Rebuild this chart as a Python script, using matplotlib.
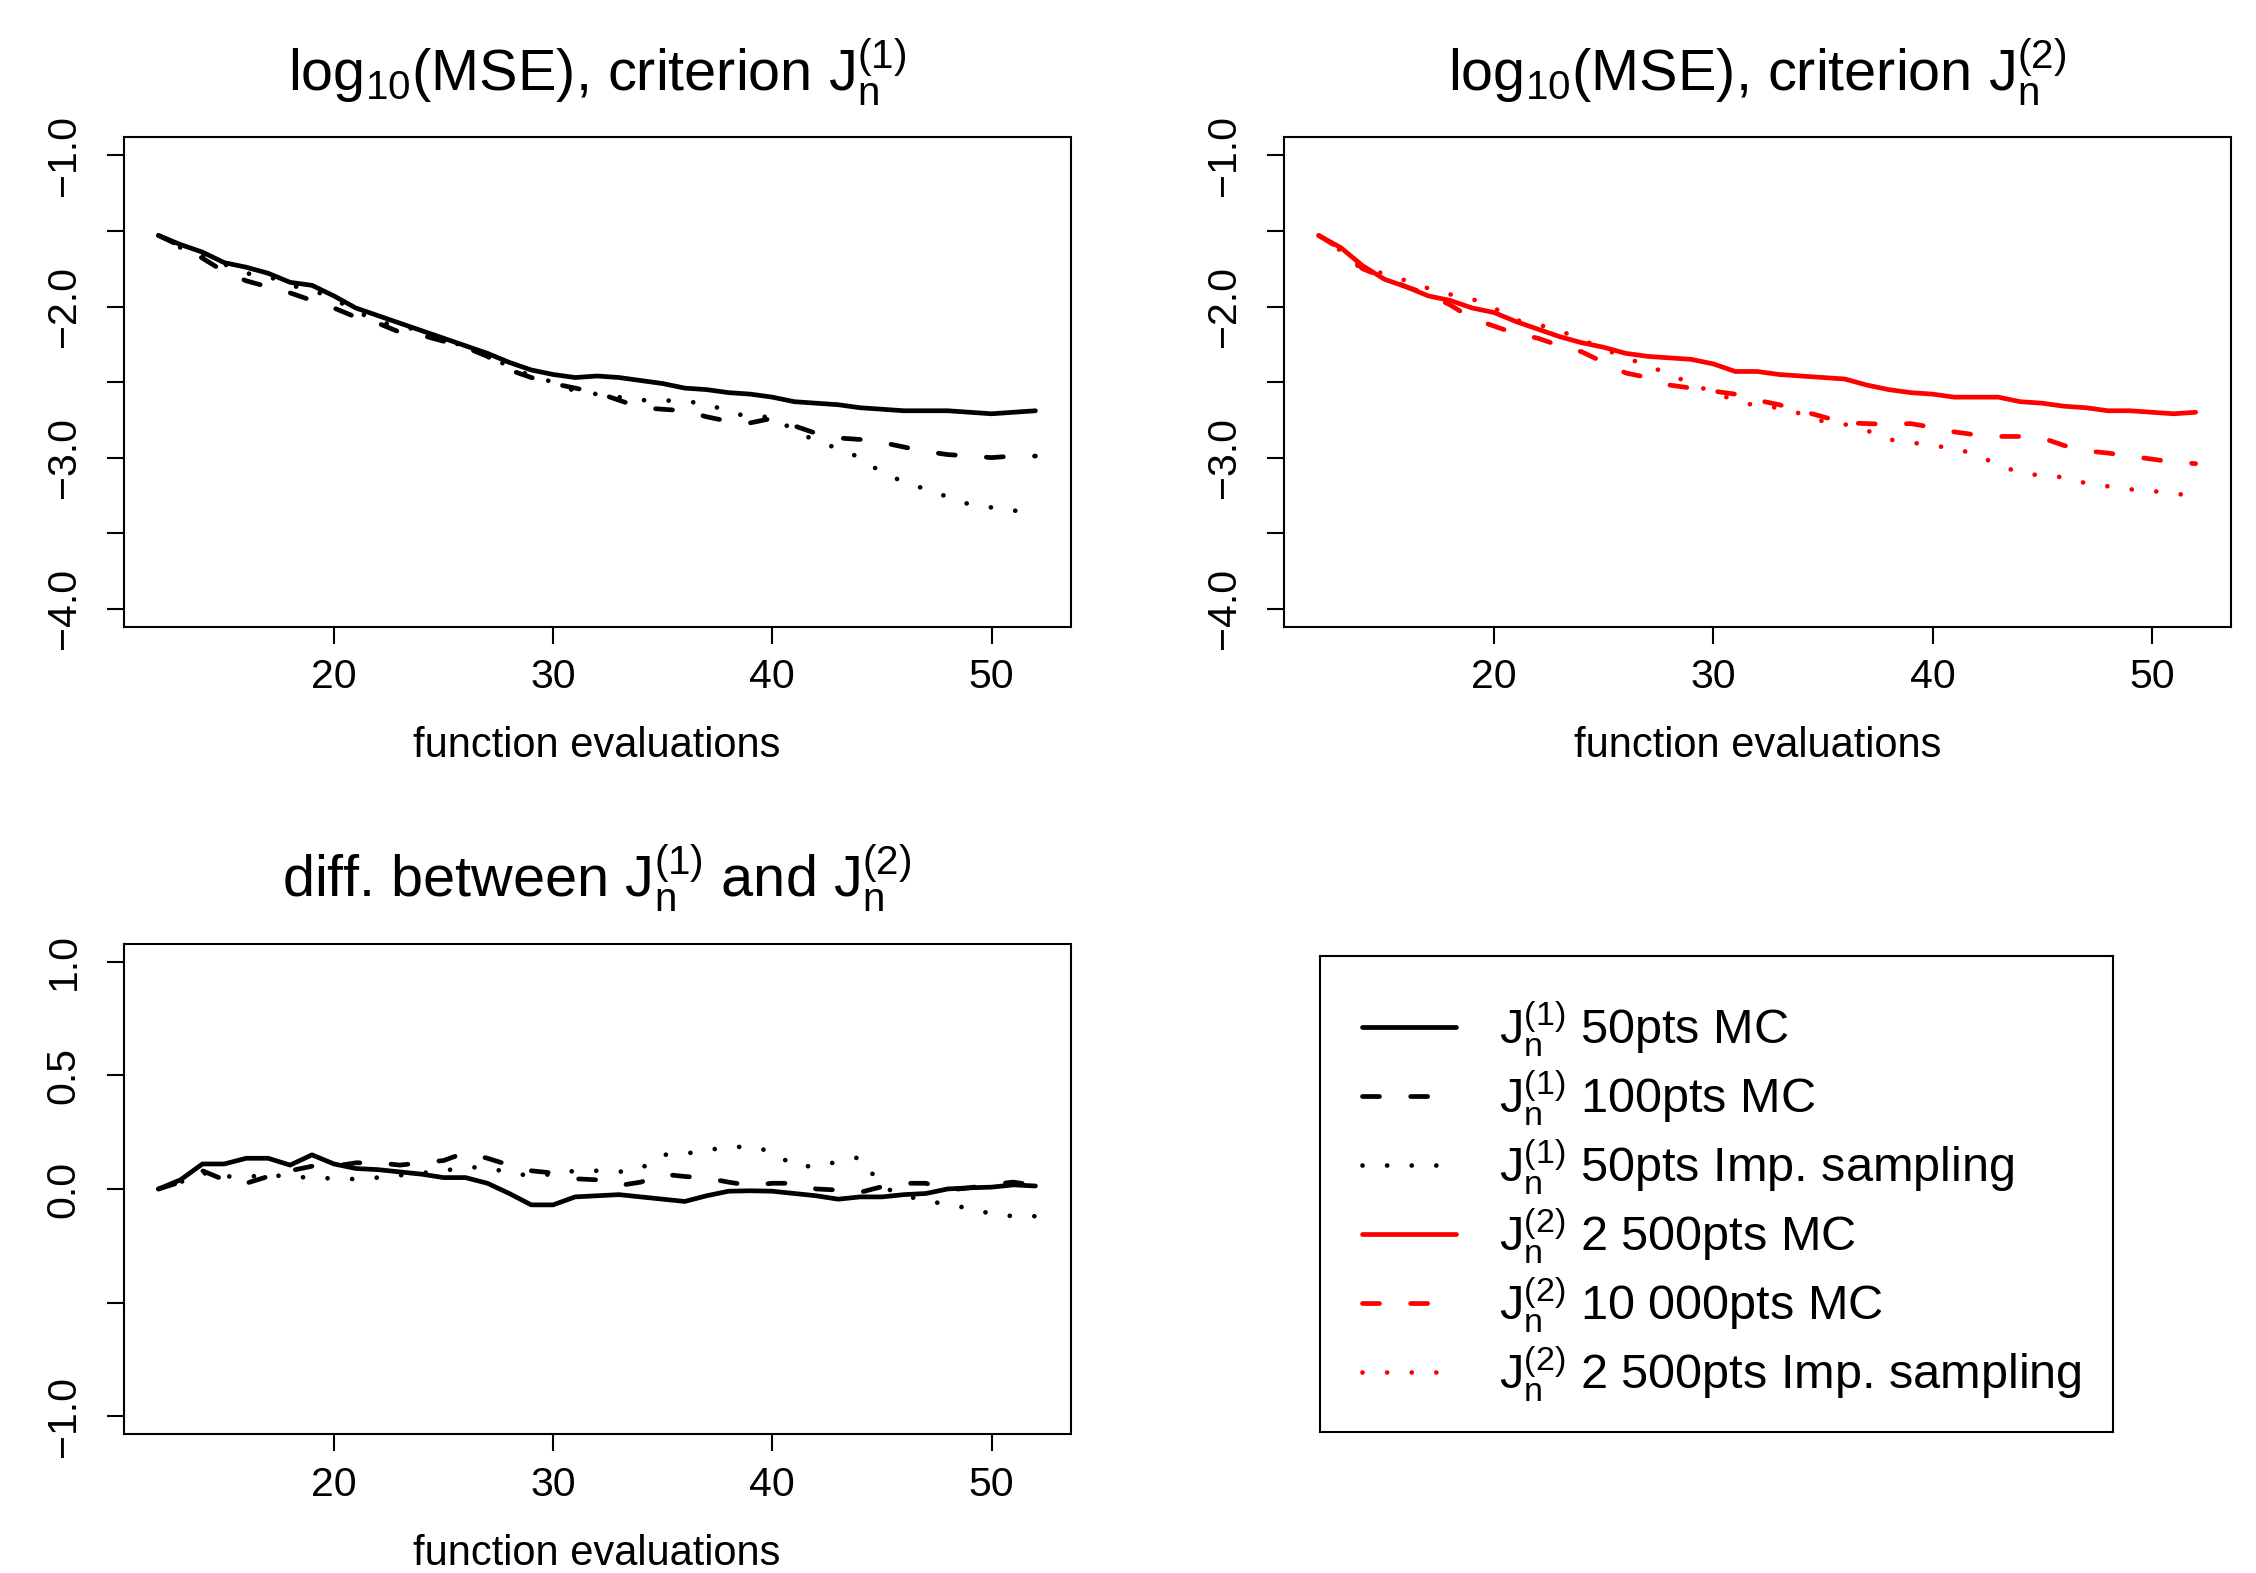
import numpy as np
import matplotlib
matplotlib.use("Agg")
import matplotlib.pyplot as plt

plt.rcParams['font.family'] = ['Liberation Sans', 'DejaVu Sans']
plt.rcParams['mathtext.fontset'] = 'custom'
plt.rcParams['mathtext.rm'] = 'Liberation Sans'
plt.rcParams['mathtext.it'] = 'Liberation Sans:italic'
plt.rcParams['mathtext.bf'] = 'Liberation Sans:bold'
plt.rcParams['mathtext.default'] = 'rm'

# number of function evaluations
evals = np.arange(12, 53)

# log10(MSE), criterion J(1)
j1_mc50 = [-1.53, -1.59, -1.64, -1.71, -1.74, -1.78, -1.84, -1.86, -1.93, -2.01,
           -2.06, -2.11, -2.16, -2.21, -2.26, -2.31, -2.37, -2.42, -2.45, -2.47,
           -2.46, -2.47, -2.49, -2.51, -2.54, -2.55, -2.57, -2.58, -2.60, -2.63,
           -2.64, -2.65, -2.67, -2.68, -2.69, -2.69, -2.69, -2.70, -2.71, -2.70,
           -2.69]
j1_mc100 = [-1.53, -1.60, -1.68, -1.77, -1.83, -1.87, -1.91, -1.96, -2.01, -2.07,
            -2.11, -2.17, -2.19, -2.23, -2.27, -2.33, -2.42, -2.47, -2.51, -2.54,
            -2.57, -2.62, -2.67, -2.68, -2.69, -2.73, -2.76, -2.77, -2.74, -2.79,
            -2.84, -2.87, -2.88, -2.90, -2.93, -2.96, -2.98, -2.99, -3.00, -2.99,
            -2.99]
j1_is50 = [-1.53, -1.61, -1.66, -1.72, -1.78, -1.80, -1.86, -1.89, -1.95, -2.03,
           -2.10, -2.13, -2.16, -2.21, -2.27, -2.32, -2.40, -2.46, -2.50, -2.56,
           -2.58, -2.60, -2.62, -2.62, -2.63, -2.64, -2.70, -2.73, -2.73, -2.82,
           -2.89, -2.94, -3.00, -3.10, -3.16, -3.21, -3.26, -3.31, -3.33, -3.35,
           -3.37]

# log10(MSE), criterion J(2)
j2_mc2500 = [-1.53, -1.61, -1.73, -1.82, -1.87, -1.93, -1.96, -2.01, -2.04, -2.10,
             -2.15, -2.20, -2.24, -2.27, -2.31, -2.33, -2.34, -2.35, -2.38, -2.43,
             -2.43, -2.45, -2.46, -2.47, -2.48, -2.52, -2.55, -2.57, -2.58, -2.60,
             -2.60, -2.60, -2.63, -2.64, -2.66, -2.67, -2.69, -2.69, -2.70, -2.71,
             -2.70]
j2_mc10000 = [-1.53, -1.62, -1.75, -1.81, -1.87, -1.92, -1.99, -2.08, -2.13, -2.18,
              -2.21, -2.26, -2.30, -2.37, -2.44, -2.47, -2.52, -2.54, -2.56, -2.58,
              -2.62, -2.65, -2.69, -2.73, -2.77, -2.775, -2.78, -2.775, -2.80, -2.83,
              -2.85, -2.86, -2.86, -2.87, -2.92, -2.955, -2.97, -2.99, -3.01, -3.03,
              -3.04]
j2_is2500 = [-1.53, -1.63, -1.76, -1.78, -1.83, -1.88, -1.92, -1.95, -2.01, -2.09,
             -2.12, -2.16, -2.22, -2.28, -2.34, -2.39, -2.45, -2.51, -2.57, -2.62,
             -2.66, -2.67, -2.71, -2.76, -2.78, -2.82, -2.88, -2.90, -2.92, -2.94,
             -2.98, -3.05, -3.10, -3.12, -3.13, -3.17, -3.19, -3.21, -3.22, -3.24,
             -3.25]

# difference between J(1) and J(2)
diff_mc = [0.00, 0.04, 0.11, 0.11, 0.135, 0.135, 0.105, 0.15, 0.11, 0.09,
           0.085, 0.075, 0.065, 0.05, 0.05, 0.025, -0.02, -0.07, -0.07, -0.035,
           -0.03, -0.025, -0.035, -0.045, -0.055, -0.03, -0.01, -0.008, -0.01, -0.02,
           -0.03, -0.045, -0.035, -0.035, -0.025, -0.02, 0.00, 0.005, 0.008, 0.018,
           0.013]
diff_mc_big = [0.00, 0.03, 0.08, 0.04, 0.025, 0.055, 0.08, 0.10, 0.10, 0.115,
               0.115, 0.105, 0.115, 0.125, 0.16, 0.135, 0.105, 0.08, 0.07, 0.045,
               0.04, 0.015, 0.03, 0.065, 0.055, 0.048, 0.03, 0.015, 0.025, 0.025,
               0.00, -0.005, -0.015, 0.01, 0.025, 0.025, -0.005, 0.005, 0.02, 0.03,
               0.015]
diff_is = [0.00, 0.03, 0.07, 0.055, 0.055, 0.058, 0.058, 0.047, 0.047, 0.043,
           0.05, 0.06, 0.07, 0.08, 0.095, 0.095, 0.07, 0.058, 0.065, 0.08,
           0.08, 0.075, 0.09, 0.15, 0.155, 0.17, 0.185, 0.185, 0.165, 0.10,
           0.10, 0.12, 0.14, 0.01, -0.03, -0.05, -0.07, -0.085, -0.11, -0.12,
           -0.12]

mse_ticks = [-4.0, -3.5, -3.0, -2.5, -2.0, -1.5, -1.0]
mse_ticklabels = ['\u22124.0', '', '\u22123.0', '', '\u22122.0', '', '\u22121.0']
diff_ticks = [-1.0, -0.5, 0.0, 0.5, 1.0]
diff_ticklabels = ['\u22121.0', '', '0.0', '0.5', '1.0']
x_ticks = [20, 30, 40, 50]

legend_labels = [r'$J_n^{(1)}$ 50pts MC',
                 r'$J_n^{(1)}$ 100pts MC',
                 r'$J_n^{(1)}$ 50pts Imp. sampling',
                 r'$J_n^{(2)}$ 2 500pts MC',
                 r'$J_n^{(2)}$ 10 000pts MC',
                 r'$J_n^{(2)}$ 2 500pts Imp. sampling']

LW = 3.4
DASHED = (0, (3.6, 6.6))
DOTTED = (0, (0.01, 5.2))
RED = '#ff0000'
W, H = 2256.0, 1573.0


def rect(left, top, right, bottom):
    return [left / W, 1 - bottom / H, (right - left) / W, (bottom - top) / H]


def style_axes(ax, yticks, yticklabels, ylim, title):
    ax.set_xlim(10.4, 53.6)
    ax.set_ylim(*ylim)
    ax.set_xticks(x_ticks)
    ax.set_yticks(yticks, labels=yticklabels)
    for s in ax.spines.values():
        s.set_linewidth(1.5)
    ax.tick_params(axis='both', direction='out', length=12.5, width=1.5,
                   labelsize=29.5)
    ax.tick_params(axis='x', pad=10)
    ax.tick_params(axis='y', pad=17, labelrotation=90)
    for lab in ax.get_yticklabels():
        lab.set_va('center')
    ax.set_xlabel('function evaluations', fontsize=30, va='baseline')
    ax.xaxis.set_label_coords(0.5, -130 / 489.5)
    ax.text(0.5, 1 + 47 / 489.5, title, transform=ax.transAxes,
            ha='center', va='baseline', fontsize=41.5)


def draw(ax, y, color, ls):
    kw = dict(color=color, lw=LW, solid_capstyle='round', dash_capstyle='round',
              solid_joinstyle='round', dash_joinstyle='round')
    if ls == 'solid':
        return ax.plot(evals, y, ls='-', **kw)[0]
    return ax.plot(evals, y, linestyle=ls, **kw)[0]


fig = plt.figure(figsize=(22.56, 15.73), dpi=100)

ax1 = fig.add_axes(rect(123.5, 137.3, 1070.5, 626.8))
h1 = draw(ax1, j1_mc50, 'black', 'solid')
h2 = draw(ax1, j1_mc100, 'black', DASHED)
h3 = draw(ax1, j1_is50, 'black', DOTTED)
style_axes(ax1, mse_ticks, mse_ticklabels, (-4.12, -0.88),
           r'log$_{10}$(MSE), criterion $J_n^{(1)}$')

ax2 = fig.add_axes(rect(1283.7, 137.3, 2230.7, 626.8))
h4 = draw(ax2, j2_mc2500, RED, 'solid')
h5 = draw(ax2, j2_mc10000, RED, DASHED)
h6 = draw(ax2, j2_is2500, RED, DOTTED)
style_axes(ax2, mse_ticks, mse_ticklabels, (-4.12, -0.88),
           r'log$_{10}$(MSE), criterion $J_n^{(2)}$')

ax3 = fig.add_axes(rect(123.5, 943.5, 1070.5, 1434.4))
draw(ax3, diff_mc, 'black', 'solid')
draw(ax3, diff_mc_big, 'black', DASHED)
draw(ax3, diff_is, 'black', DOTTED)
style_axes(ax3, diff_ticks, diff_ticklabels, (-1.08, 1.08),
           r'diff. between $J_n^{(1)}$ and $J_n^{(2)}$')

# legend panel
lax = fig.add_axes(rect(1319.5, 955.5, 2112.5, 1432.0))
lax.set_xticks([])
lax.set_yticks([])
for s in lax.spines.values():
    s.set_linewidth(1.5)
lax.legend([h1, h2, h3, h4, h5, h6], legend_labels, loc='upper left',
           bbox_to_anchor=(42.9 / 793, 1 - 44 / 476.5), frameon=False,
           fontsize=35, handlelength=1.93, handletextpad=0.88,
           labelspacing=0.19, borderpad=0, borderaxespad=0)

fig.savefig('out.png', dpi=100)
